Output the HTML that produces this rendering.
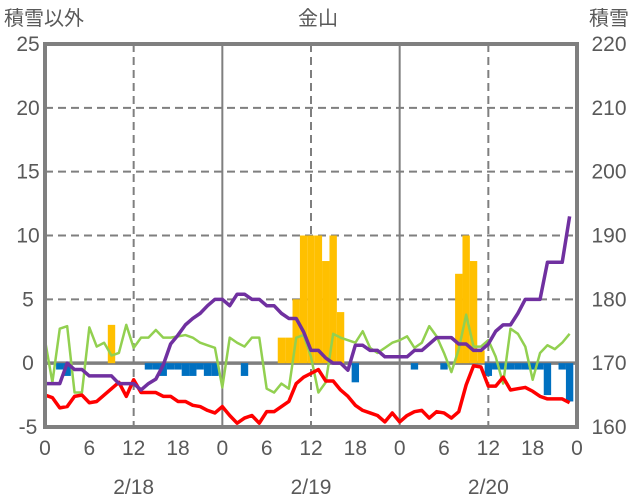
<!DOCTYPE html>
<html><head><meta charset="utf-8">
<style>
html,body{margin:0;padding:0;background:#fff;}
svg{display:block;font-family:"Liberation Sans","Noto Sans CJK JP",sans-serif;}
</style></head>
<body>
<svg id="chart" width="636" height="501" viewBox="0 0 636 501">
<g id="grid"></g>
<g id="bars"></g>
<g id="lines"></g>
<g id="frame"></g>
<g id="labels" fill="#595959"></g>
</svg>
<script>
const hours = Array.from({length:72},(_,i)=>i);
const greenSeries = [1.8,-1.5,2.7,2.9,-2.3,-2.3,2.8,1.3,1.6,0.6,0.8,3.0,1.2,2.0,2.0,2.6,2.0,2.0,2.1,2.2,2.0,1.6,1.4,1.2,
 -1.9,2.0,1.6,1.3,2.0,2.0,-2.0,-2.3,-1.6,-2.0,2.0,2.2,0.5,-2.3,-1.5,2.3,2.0,1.8,1.6,2.5,1.2,0.8,1.2,1.6,
 1.8,2.1,1.2,1.6,2.9,2.1,0.8,-0.7,1.1,3.8,1.3,1.3,1.8,0.5,-1.6,2.7,2.3,1.3,-1.3,0.8,1.4,1.1,1.6,2.3];
const redSeries = [-2.5,-2.7,-3.5,-3.4,-2.6,-2.5,-3.1,-3.0,-2.5,-2.0,-1.5,-2.6,-1.3,-2.3,-2.3,-2.3,-2.6,-2.6,-3.0,-3.0,-3.3,-3.4,-3.7,-3.9,
 -3.4,-4.1,-4.7,-4.3,-4.1,-4.7,-3.8,-3.8,-3.4,-3.0,-1.6,-1.1,-0.8,-0.5,-1.4,-1.4,-2.1,-2.6,-3.3,-3.7,-3.9,-4.1,-4.6,-3.9,
 -4.6,-4.1,-3.8,-3.7,-4.3,-3.8,-3.9,-4.3,-3.8,-1.7,-0.2,-0.3,-1.8,-1.8,-1.1,-2.1,-2.0,-1.9,-2.2,-2.6,-2.8,-2.8,-2.8,-3.1];
const depthSeries = [166.8,166.8,166.8,170,169,169,168,168,168,168,166.8,166.8,166.8,165.8,166.8,167.5,169.7,173,174.4,176,177,177.8,179,180,
 180,179,180.8,180.8,180,180,179,179,177.8,177,177,174.9,172,172,170.8,170,170,168.9,172.8,172.8,172,172,171,171,
 171,171,172,172,173,174,174,174,173,173,172,172,173,175,176,176,177.8,180,180,180,185.8,185.8,185.8,193];
const snowfall = [0,0,0,0,0,0,0,0,0,3,0,0,0,0,0,0,0,0,0,0,0,0,0,0,
 0,0,0,0,0,0,0,0,2,2,5,10,10,10,8,10,4,0,0,0,0,0,0,0,
 0,0,0,0,0,0,0,0,7,10,8,1,0,0,0,0,0,0,0,0,0,0,0,0];
const negBars = [0,0,-0.5,-1,0,0,0,0,0,0,0,0,0,0,-0.5,-0.5,-1,-0.5,-0.5,-1,-1,-0.5,-1,-1,
 0,0,0,-1,0,0,0,0,0,0,0,0,0,0,0,0,0,0,-1.5,0,0,0,0,0,
 0,0,-0.5,0,0,0,-0.5,0,0,0,0,0,-1,-0.5,-0.5,-0.5,-0.5,-0.5,-0.5,-0.5,-2.5,0,-0.5,-3];
const leftTicks = [25,20,15,10,5,0,-5];
const rightTicks = [220,210,200,190,180,170,160];
const xTickLabels = ["0","6","12","18","0","6","12","18","0","6","12","18","0"];
const dateLabels = ["2/18","2/19","2/20"];

const X0=45,X1=577,Y0=44,Y1=427;
const xs = h => X0 + h*(X1-X0)/72;
const yl = v => Y0 + (25-v)*(Y1-Y0)/30;
const yr = v => Y0 + (220-v)*(Y1-Y0)/60;
const NS="http://www.w3.org/2000/svg";
function mk(tag, attrs, parent){const e=document.createElementNS(NS,tag);for(const k in attrs)e.setAttribute(k,attrs[k]);parent.appendChild(e);return e;}
const grid=document.getElementById('grid'),bars=document.getElementById('bars'),lines=document.getElementById('lines'),frame=document.getElementById('frame'),labels=document.getElementById('labels');

leftTicks.forEach(t=>{
  if(t===25||t===-5||t===0) return;
  const l=mk('line',{x1:X0,x2:X1,y1:yl(t),y2:yl(t),stroke:'#7f7f7f','stroke-width':2,'stroke-dasharray':'8,5'},grid);
  
  
});
for(let h=6;h<72;h+=6){
  if(h%12!==0 && h%24!==0) continue;
  const day = h%24===0;
  const l=mk('line',{x1:xs(h),x2:xs(h),y1:Y0,y2:Y1,stroke:'#7f7f7f','stroke-width':2,'stroke-dasharray':day?'':'8,5'},grid);
  
  
}
const bw=(X1-X0)/72;
snowfall.forEach((v,i)=>{ if(!v) return;
  const r=mk('rect',{x:xs(i)-bw/2,y:yl(v),width:bw,height:yl(0)-yl(v),fill:'#ffc000'},bars);
  
  
});
negBars.forEach((v,i)=>{ if(!v) return;
  const r=mk('rect',{x:xs(i)-bw/2,y:yl(0),width:bw,height:yl(v)-yl(0),fill:'#0070c0'},bars);
  
  
});
const zl=mk('line',{x1:X0,x2:X1,y1:yl(0),y2:yl(0),stroke:'#7f7f7f','stroke-width':3.5},grid);


function poly(arr,fy,color,name){
  const p=mk('polyline',{points:arr.map((v,i)=>xs(hours[i])+','+fy(v)).join(' '),fill:'none',stroke:color,'stroke-width':color==='#92d050'?2.5:3.5,'stroke-linejoin':'round'},lines);
  
  
}
poly(greenSeries,yl,'#92d050','green-series-line');
poly(redSeries,yl,'#ff0000','temperature-line');
poly(depthSeries,yr,'#7030a0','snow-depth-line');
const fr=mk('rect',{x:X0,y:Y0,width:X1-X0,height:Y1-Y0,fill:'none',stroke:'#7f7f7f','stroke-width':4},frame);



function txt(s,x,y,anchor,size,name){
  const t=mk('text',{x:x,y:y,'text-anchor':anchor,'font-size':size},labels);
  t.textContent=s;
  
  
}
leftTicks.forEach(t=>txt(String(t),28,yl(t)+7,'middle',21,'left-tick-label'));
rightTicks.forEach(t=>txt(String(t),609,yr(t)+7,'middle',21,'right-tick-label'));
xTickLabels.forEach((s,i)=>txt(s,xs(i*6),455,'middle',21,'x-tick-label'));
dateLabels.forEach((s,i)=>txt(s,xs(12+24*i),494,'middle',21,'date-label'));
txt('積雪以外',4,25,'start',20,'left-axis-title');
txt('積雪',589,25,'start',20,'right-axis-title');
txt('金山',318,25,'middle',20,'chart-title');
</script>
</body></html>
